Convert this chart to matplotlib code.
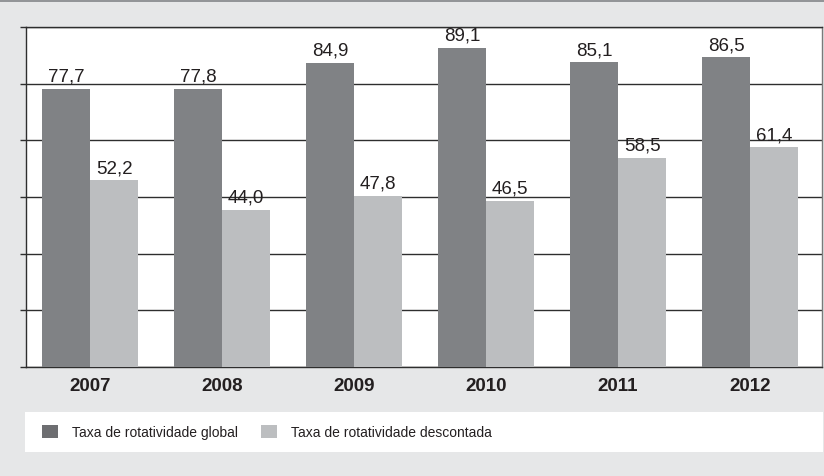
import matplotlib
matplotlib.use('Agg')
from matplotlib import pyplot as plt
from matplotlib.patches import Patch, Rectangle
import numpy as np

# values
years = ['2007', '2008', '2009', '2010', '2011', '2012']
taxa_global = [77.7, 77.8, 84.9, 89.1, 85.1, 86.5]
taxa_descontada = [52.2, 44.0, 47.8, 46.5, 58.5, 61.4]
legend_labels = ['Taxa de rotatividade global', 'Taxa de rotatividade descontada']

plt.rcParams['font.family'] = ['Liberation Sans', 'DejaVu Sans']

bg = '#e6e7e8'
dark = '#808285'
light = '#bcbec0'
line_c = '#2e2e2e'
txt = '#231f20'

W, H = 824, 477
fig = plt.figure(figsize=(W / 100, H / 100), dpi=100, facecolor=bg)

# thin dark strip along the top
fig.patches.append(Rectangle((0, 1 - 3 / H), 1, 3 / H, transform=fig.transFigure,
                             facecolor='#939598', edgecolor='none', zorder=0))

ax = fig.add_axes([26 / W, (H - 368) / H, 796 / W, 340 / H])
ax.set_facecolor('white')

x = np.arange(len(years))
w = 0.364
b1 = ax.bar(x - w / 2, taxa_global, width=w, color=dark, zorder=3)
b2 = ax.bar(x + w / 2, taxa_descontada, width=w, color=light, zorder=3)

fmt = lambda v: f'{v:.1f}'.replace('.', ',')
ax.bar_label(b1, labels=[fmt(v) for v in taxa_global], padding=3, fontsize=13.5, color=txt)
ax.bar_label(b2, labels=[fmt(v) for v in taxa_descontada], padding=3, fontsize=13.5, color=txt)

ax.set_ylim(0, 95)
ax.set_xlim(-0.485, 5.545)
ax.set_yticks(np.linspace(0, 95, 7))
ax.set_yticklabels([])
ax.yaxis.grid(True, color=line_c, linewidth=1.0, zorder=1)
ax.tick_params(axis='y', length=4.5, width=1.0, color=line_c, direction='out')

ax.set_xticks(x)
ax.set_xticklabels(years, fontsize=13.5, fontweight='bold', color=txt)
ax.tick_params(axis='x', length=0, pad=7)

for s in ax.spines.values():
    s.set_color(line_c)
    s.set_linewidth(1.0)
ax.spines['right'].set_color('#7a7a7a')

# legend strip
fig.patches.append(Rectangle((25 / W, (H - 453) / H), 798 / W, 40 / H, transform=fig.transFigure,
                             facecolor='white', edgecolor='none', zorder=0))
handles = [Patch(facecolor='#6d6e71', edgecolor='none'), Patch(facecolor=light, edgecolor='none')]
fig.legend(handles, legend_labels, loc='center left', bbox_to_anchor=(42 / W, (H - 433) / H),
           ncol=2, frameon=False, fontsize=10, handlelength=1.15, handleheight=1.05,
           handletextpad=1.0, columnspacing=1.7, borderpad=0, borderaxespad=0,
           labelcolor=txt)

fig.savefig('out.png', dpi=100, facecolor=bg)
